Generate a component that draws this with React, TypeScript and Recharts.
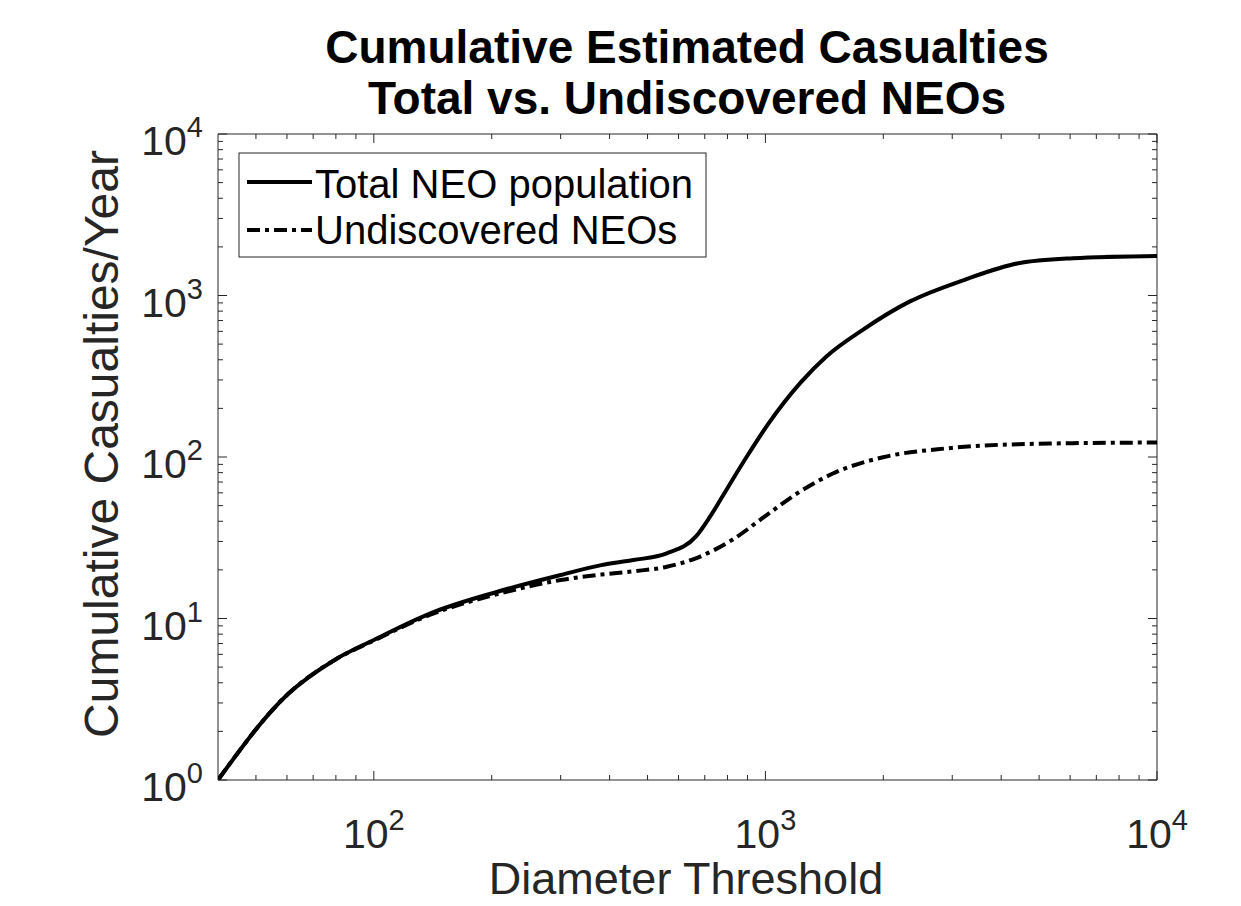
import React from "react";
import { LineChart, Line, XAxis, YAxis, ReferenceArea } from "recharts";

// values (diameter in m, casualties per year)
const totalDiameter = [40, 60, 80, 100, 140, 208, 300, 381, 460, 560, 664, 722, 804, 895, 1016, 1231, 1429, 1769, 2333, 3213, 4424, 6100, 10000];
const totalCasualties = [1.0, 3.36, 5.6, 7.36, 10.8, 14.7, 18.6, 21.4, 23.0, 25.3, 32.1, 42.7, 65.5, 100, 160, 290, 418, 611, 916, 1247, 1583, 1700, 1757];

const undiscoveredDiameter = [40, 60, 80, 100, 140, 208, 300, 381, 460, 560, 664, 821, 995, 1206, 1492, 2010, 2891, 4424, 10000];
const undiscoveredCasualties = [1.0, 3.36, 5.6, 7.3, 10.6, 14.2, 17.3, 18.7, 19.6, 20.9, 23.6, 30.6, 42.7, 59.6, 79.3, 100, 113, 120, 123];

const xTicks = [50, 60, 70, 80, 90, 100, 200, 300, 400, 500, 600, 700, 800, 900, 1000, 2000, 3000, 4000, 5000, 6000, 7000, 8000, 9000, 10000];
const yTicks = [1, 2, 3, 4, 5, 6, 7, 8, 9, 10, 20, 30, 40, 50, 60, 70, 80, 90, 100, 200, 300, 400, 500, 600, 700, 800, 900, 1000, 2000, 3000, 4000, 5000, 6000, 7000, 8000, 9000, 10000];

const totalData = totalDiameter.map((d, i) => ({ diameter: d, casualties: totalCasualties[i] }));
const undiscoveredData = undiscoveredDiameter.map((d, i) => ({ diameter: d, casualties: undiscoveredCasualties[i] }));

const FONT = '"Liberation Sans", Arial, Helvetica, sans-serif';
const AXIS = "#262626";
const DASH_DOT = "13 5 4 5";
const PLOT_LEFT = 218;
const PLOT_RIGHT = 1157;
const PLOT_TOP = 134;
const PLOT_BOTTOM = 780;

const isDecade = (v: number) => Math.abs(Math.log10(v) - Math.round(Math.log10(v))) < 1e-9;

const XTick = (props: any) => {
	const { x, payload } = props;
	const v = payload.value;
	const major = isDecade(v);
	const len = major ? 9 : 5;
	return (
		<g>
			<line x1={x} y1={PLOT_BOTTOM} x2={x} y2={PLOT_BOTTOM - len} stroke={AXIS} strokeWidth={1} />
			<line x1={x} y1={PLOT_TOP} x2={x} y2={PLOT_TOP + len} stroke={AXIS} strokeWidth={1} />
			{major && (
				<text x={x} y={PLOT_BOTTOM + 68} textAnchor="middle" fill={AXIS} fontFamily={FONT} fontSize={41}>
					<tspan>10</tspan>
					<tspan dy={-18} fontSize={29}>{Math.round(Math.log10(v))}</tspan>
				</text>
			)}
		</g>
	);
};

const YTick = (props: any) => {
	const { y, payload } = props;
	const v = payload.value;
	const major = isDecade(v);
	const len = major ? 9 : 5;
	return (
		<g>
			<line x1={PLOT_LEFT} y1={y} x2={PLOT_LEFT + len} y2={y} stroke={AXIS} strokeWidth={1} />
			<line x1={PLOT_RIGHT} y1={y} x2={PLOT_RIGHT - len} y2={y} stroke={AXIS} strokeWidth={1} />
			{major && (
				<text x={203} y={y + 21} textAnchor="end" fill={AXIS} fontFamily={FONT} fontSize={41}>
					<tspan>10</tspan>
					<tspan dy={-18} fontSize={29}>{Math.round(Math.log10(v))}</tspan>
				</text>
			)}
		</g>
	);
};

const Legend = () => (
	<svg width={470} height={106} style={{ position: "absolute", left: 238, top: 152 }}>
		<rect x={1} y={1} width={467} height={104} fill="#fff" stroke={AXIS} strokeWidth={1} />
		<line x1={9} y1={30} x2={74} y2={30} stroke="#000" strokeWidth={4} />
		<text x={77} y={46} fontFamily={FONT} fontSize={40} fill="#000">Total NEO population</text>
		<line x1={9} y1={78} x2={74} y2={78} stroke="#000" strokeWidth={4} strokeDasharray={DASH_DOT} />
		<text x={77} y={92} fontFamily={FONT} fontSize={40} fill="#000">Undiscovered NEOs</text>
	</svg>
);

const App = () => {
	return (
		<div style={{ position: "absolute", left: 0, top: 0, width: 1241, height: 906, background: "#fff" }}>
			<svg width={1241} height={130} style={{ position: "absolute", left: 0, top: 0 }}>
				<text x={687} y={63} textAnchor="middle" fontFamily={FONT} fontWeight="bold" fontSize={46} fill="#000">
					Cumulative Estimated Casualties
				</text>
				<text x={687} y={114} textAnchor="middle" fontFamily={FONT} fontWeight="bold" fontSize={46} fill="#000">
					Total vs. Undiscovered NEOs
				</text>
			</svg>
			<div style={{ position: "absolute", left: 0, top: 0 }}>
				<LineChart width={1241} height={906} margin={{ top: PLOT_TOP, right: 1241 - PLOT_RIGHT, bottom: 0, left: 0 }}>
					<XAxis
						dataKey="diameter"
						type="number"
						scale="log"
						domain={[40, 10000]}
						ticks={xTicks}
						interval={0}
						allowDataOverflow
						height={906 - PLOT_BOTTOM}
						axisLine={false}
						tickLine={false}
						tickSize={0}
						tickMargin={0}
						tick={<XTick />}
						label={{
							content: () => (
								<text x={686} y={894} textAnchor="middle" fill={AXIS} fontFamily={FONT} fontSize={45}>
									Diameter Threshold
								</text>
							)
						}}
					/>
					<YAxis
						dataKey="casualties"
						type="number"
						scale="log"
						domain={[1, 10000]}
						ticks={yTicks}
						interval={0}
						allowDataOverflow
						width={PLOT_LEFT}
						axisLine={false}
						tickLine={false}
						tickSize={0}
						tickMargin={0}
						tick={<YTick />}
						label={{
							content: () => (
								<text
									transform="translate(118,444) rotate(-90)"
									textAnchor="middle"
									fill={AXIS}
									fontFamily={FONT}
									fontSize={48}
								>
									Cumulative Casualties/Year
								</text>
							)
						}}
					/>
					<ReferenceArea x1={40} x2={10000} y1={1} y2={10000} fill="none" stroke={AXIS} strokeWidth={1} ifOverflow="visible" />
					<Line
						data={undiscoveredData}
						dataKey="casualties"
						type="monotone"
						stroke="#000"
						strokeWidth={4}
						strokeDasharray={DASH_DOT}
						dot={false}
						activeDot={false}
						isAnimationActive={false}
					/>
					<Line
						data={totalData}
						dataKey="casualties"
						type="monotone"
						stroke="#000"
						strokeWidth={4}
						dot={false}
						activeDot={false}
						isAnimationActive={false}
					/>
				</LineChart>
			</div>
			<Legend />
		</div>
	);
};

export default App;
